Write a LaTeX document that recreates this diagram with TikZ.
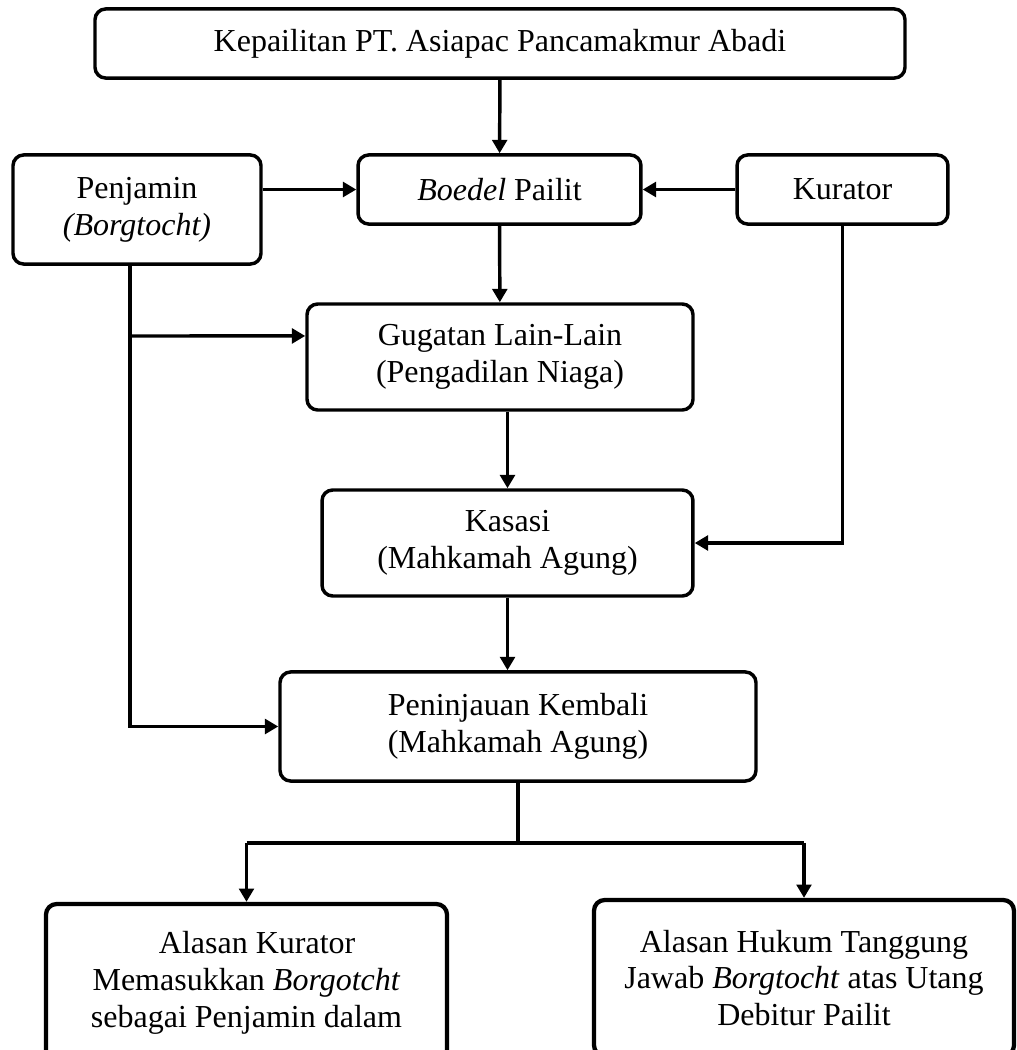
\documentclass[tikz,border=0pt]{standalone}
\usepackage{fontspec}
\setmainfont{Liberation Serif}
\usetikzlibrary{arrows.meta,positioning,calc}

\tikzset{
  box/.style={draw,line width=1.3pt,rounded corners=4pt,align=center,
    inner sep=2pt,font=\fontsize{12}{13.8}\selectfont},
  arr/.style={line width=1.3pt,-{Triangle[length=5pt,width=5.5pt]}},
  ln/.style={line width=1.3pt}
}

\begin{document}
\begin{tikzpicture}[x=0.375pt,y=-0.375pt]
\useasboundingbox (0,0) rectangle (1016,1050);
\clip (0,0) rectangle (1016,1050);
\path (500,43.5) node(k)[box,minimum width=303.75pt,minimum height=25.9pt] {Kepailitan PT. Asiapac Pancamakmur Abadi};
\path (499.5,189.5) node(bp)[box,minimum width=106.1pt,minimum height=25.9pt] {\textit{Boedel} Pailit};
\path (137,209.5) node(pj)[box,minimum width=93pt,minimum height=40.9pt] {Penjamin\\\textit{(Borgtocht)}};
\path (842.5,189.5) node(kr)[box,minimum width=79.1pt,minimum height=25.9pt] {Kurator};
\path (500,357) node(gl)[box,minimum width=144.75pt,minimum height=39.75pt] {Gugatan Lain-Lain\\(Pengadilan Niaga)};
\path (507.5,543) node(ks)[box,minimum width=139.1pt,minimum height=39.75pt] {Kasasi\\(Mahkamah Agung)};
\path (518,726.5) node(pk)[box,minimum width=178.5pt,minimum height=40.9pt] {Peninjauan Kembali\\(Mahkamah Agung)};
\path (246.5,983) node(ak)[box,line width=1.6pt,minimum width=150.4pt,minimum height=59.25pt] {\hspace{8pt}Alasan Kurator\\Memasukkan \textit{Borgotcht}\\sebagai Penjamin dalam};
\path (804,978) node(ah)[box,line width=1.6pt,minimum width=157.5pt,minimum height=58.5pt] {Alasan Hukum Tanggung\\Jawab \textit{Borgtocht} atas Utang\\Debitur Pailit};

\draw[arr] (k) -- (bp);
\draw[arr] (pj.east |- bp.west) -- (bp.west);
\draw[arr] (kr) -- (bp);
\draw[arr] (bp) -- (gl);
\draw[arr] (gl.south -| ks) -- (ks);
\draw[arr] (ks) -- (ks |- pk.north);
\draw[arr] (kr.south) |- (ks.east);
\coordinate (pjs) at ([xshift=-2.6pt]pj.south);
\draw[arr] (pjs) |- (pk.west);
\draw[arr] (pjs |- gl.west) ++(0,-21) -- ([yshift=7.9pt]gl.west);
\draw[ln] (pk.south) -- ++(0,60) coordinate(sp);
\draw[ln] (sp -| ak) -- (sp -| ah);
\draw[arr] (sp -| ak) -- (ak);
\draw[arr] (sp -| ah) -- (ah);
\end{tikzpicture}
\end{document}
